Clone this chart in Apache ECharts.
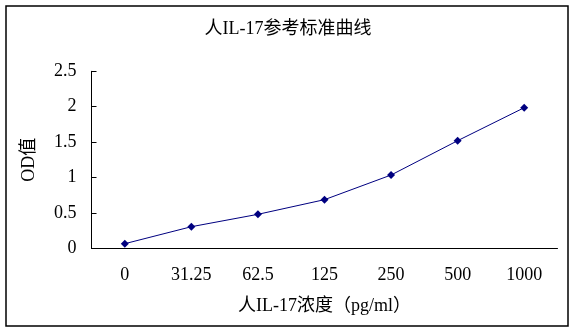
<!DOCTYPE html>
<html>
<head>
<meta charset="utf-8">
<script src="https://cdn.jsdelivr.net/npm/echarts@6/dist/echarts.min.js"></script>
<style>
  html, body { margin: 0; padding: 0; background: #fff; }
  #chart { width: 576px; height: 334px; }
</style>
</head>
<body>
<div id="chart"></div>
<script>
// Standard curve: concentration (pg/ml) vs. measured OD
const concentrations = ['0', '31.25', '62.5', '125', '250', '500', '1000'];
const odValues = [0.065, 0.305, 0.48, 0.687, 1.035, 1.52, 1.986];
const yTicks = { min: 0, max: 2.5, interval: 0.5 };

const FONT = '"Liberation Serif", "Noto Sans CJK SC", serif';

const chart = echarts.init(document.getElementById('chart'), null, { renderer: 'canvas' });

chart.setOption({
  backgroundColor: '#ffffff',
  animation: false,
  title: {
    text: '人IL-17参考标准曲线',
    left: 'center',
    top: 15,
    textStyle: { fontFamily: FONT, fontSize: 18, fontWeight: 'normal', color: '#000' }
  },
  graphic: [{
    type: 'rect',
    shape: { x: 6, y: 6, width: 562, height: 320 },
    style: { fill: 'none', stroke: '#000', lineWidth: 1.5 },
    silent: true
  }],
  grid: { left: 91.5, right: 18.5, top: 71.3, bottom: 85.7 },
  xAxis: {
    type: 'category',
    data: concentrations,
    boundaryGap: true,
    name: '人IL-17浓度（pg/ml）',
    nameLocation: 'middle',
    nameGap: 49,
    nameTextStyle: { fontFamily: FONT, fontSize: 18, color: '#000' },
    axisLine: { lineStyle: { color: '#000', width: 1 } },
    axisTick: { inside: true, length: 5, lineStyle: { color: '#000' } },
    axisLabel: { fontFamily: FONT, fontSize: 18, color: '#000', margin: 18 },
    splitLine: { show: false }
  },
  yAxis: {
    type: 'value',
    min: yTicks.min,
    max: yTicks.max,
    interval: yTicks.interval,
    name: 'OD值',
    nameLocation: 'middle',
    nameGap: 53,
    nameRotate: 90,
    nameTextStyle: { fontFamily: FONT, fontSize: 18, color: '#000' },
    axisLine: { show: true, lineStyle: { color: '#000', width: 1 } },
    axisTick: { show: true, inside: true, length: 5, lineStyle: { color: '#000' } },
    axisLabel: {
      fontFamily: FONT, fontSize: 18, color: '#000', margin: 15,
      formatter: v => (v === 0 ? '0' : String(v))
    },
    splitLine: { show: false }
  },
  series: [{
    type: 'line',
    data: odValues,
    symbol: 'diamond',
    symbolSize: 8,
    lineStyle: { color: '#000080', width: 1 },
    itemStyle: { color: '#000080' }
  }]
});
</script>
</body>
</html>
